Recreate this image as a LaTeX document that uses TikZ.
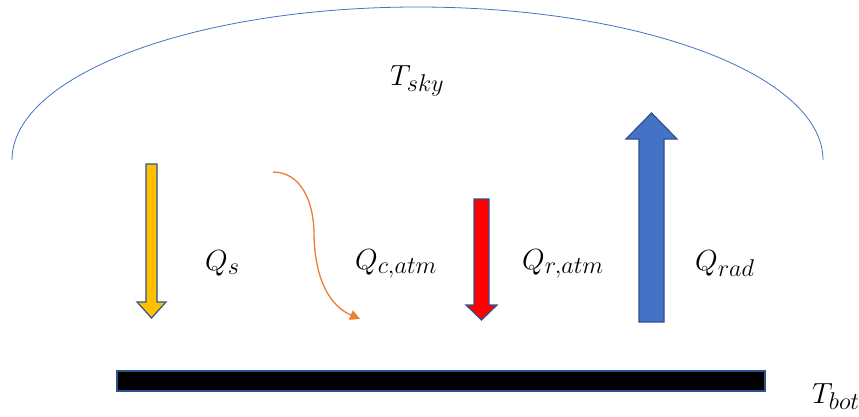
\documentclass[tikz,border=0pt]{standalone}
\usepackage{amsmath}
\usepackage{graphicx}
\usepackage{xcolor}
\usetikzlibrary{arrows.meta}
\definecolor{skyblue}{HTML}{4472C4}
\definecolor{edgeblue}{HTML}{2F528F}
\definecolor{solaryellow}{HTML}{FFC000}
\definecolor{convorange}{HTML}{ED7D31}
\newcommand{\biglabel}[1]{\scalebox{1.17}{$#1$}}
\tikzset{
  % sky dome and plate
  dome/.style={draw=skyblue, line width=0.8pt},
  plate/.style={draw=edgeblue, fill=black, line width=1.2pt},
  % block arrows
  blockarrow/.style={draw=edgeblue, line width=1.2pt, fill=#1},
  blockarrow/.default={skyblue},
  % curved convection arrow
  convarrow/.style={draw=convorange, line width=1.3pt, -{Triangle[length=10pt, width=10pt]}},
  % labels
  qlabel/.style={anchor=base west, inner sep=0pt, font=\Huge},
}
\begin{document}
\begin{tikzpicture}[x=1pt, y=-1pt]
    \useasboundingbox (0,0) rectangle (859,416);

    % Sky dome
    \draw[dome] (12,160) arc[start angle=180, end angle=360, x radius=405.5, y radius=153];
    \node[qlabel] (tsky) at (390,85) {\biglabel{T_{sky}}};

    % Solar heat
    \draw[blockarrow=solaryellow] (146,164) -- (157,164) -- (157,302) -- (166,302)
      -- (151.5,318) -- (137,302) -- (146,302) -- cycle;
    \node[qlabel] (qs) at (205,270) {\biglabel{Q_{s}}};

    % Convection
    \coordinate (convstart) at (273,172);
    \coordinate (convend) at (360,319);
    \draw[convarrow] (convstart) .. controls (300,172) and (314,200) .. (314,235)
      .. controls (315,280) and (330,306) .. (convend);
    \node[qlabel] (qc) at (355,269) {\biglabel{Q_{c,atm}}};

    % Atmospheric radiation
    \draw[blockarrow=red] (474,199) -- (489,199) -- (489,305) -- (497,305)
      -- (481.5,320) -- (466,305) -- (474,305) -- cycle;
    \node[qlabel] (qr) at (522,269) {\biglabel{Q_{r,atm}}};

    % Emitted radiation
    \draw[blockarrow] (639,322) -- (664,322) -- (664,139) -- (677,139)
      -- (651.5,113) -- (626,139) -- (639,139) -- cycle;
    \node[qlabel] (qrad) at (695,270) {\biglabel{Q_{rad}}};

    % Bottom plate
    \draw[plate] (117,371) rectangle (765,391);
    \node[qlabel] (tbot) at (812,403) {\biglabel{T_{bot}}};
\end{tikzpicture}
\end{document}
